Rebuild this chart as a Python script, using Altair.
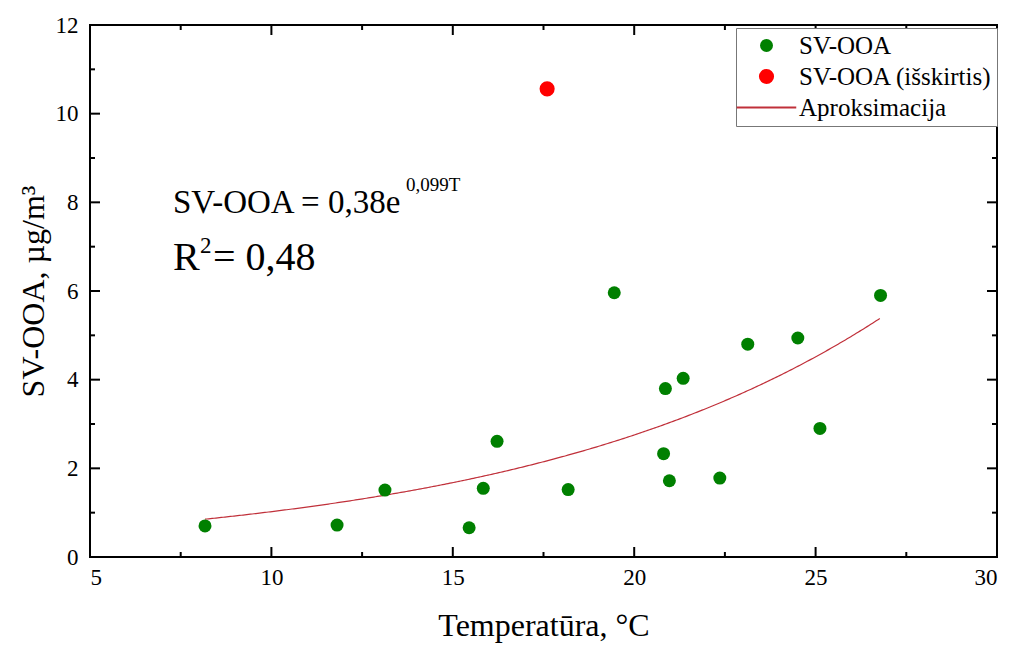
import altair as alt
import pandas as pd

# ---- data ----
temp = [8.17, 11.81, 13.13, 15.45, 15.84, 16.22, 18.18, 19.45, 20.81, 20.86,
        20.97, 21.35, 22.36, 23.13, 24.51, 25.12, 26.79]
sv_ooa = [0.70, 0.72, 1.51, 0.66, 1.55, 2.61, 1.52, 5.96, 2.33, 3.80,
          1.72, 4.03, 1.78, 4.80, 4.94, 2.90, 5.90]
outlier_temp = [17.60]
outlier_sv = [10.56]

# fit printed on the chart: SV-OOA = 0,38 e^(0,099 T)
fit_a = 0.38
fit_b = 0.099
fit_start, fit_stop = 8.17, 26.80

series_names = ["SV-OOA", "SV-OOA (išskirtis)", "Aproksimacija"]
x_major = [5, 10, 15, 20, 25, 30]
x_minor = [7.5, 12.5, 17.5, 22.5, 27.5]
y_major = [0, 2, 4, 6, 8, 10, 12]
y_minor = [1, 3, 5, 7, 9, 11]

# ---- styling ----
W, H = 907, 532
FONT = "Liberation Serif"
colors = ["#008000", "#ff0000", "#c0303a"]
# legend symbols: circles and a thin horizontal bar standing for the fit line
shapes = ["circle", "circle", "M-3.5,-0.11L3.5,-0.11L3.5,0.11L-3.5,0.11Z"]
sizes = [169, 289, 169]

xs = alt.Scale(domain=[5, 30], nice=False, zero=False)
ys = alt.Scale(domain=[0, 12], nice=False, zero=False)

pts = pd.DataFrame({
    "T": temp + outlier_temp,
    "v": sv_ooa + outlier_sv,
    "series": [series_names[0]] * len(temp) + [series_names[1]] * len(outlier_temp),
})

legend = alt.Legend(
    title=None, orient="none", legendX=646, legendY=3,
    labelFont=FONT, labelFontSize=25, labelColor="black", labelOffset=20,
    labelLimit=400, padding=5, rowPadding=5, strokeColor="#777",
    fillColor="white", symbolOpacity=1, symbolSize=225, symbolOffset=13,
    symbolStrokeWidth=0,
)

points = alt.Chart(pts).mark_point(filled=True, opacity=1).encode(
    x=alt.X("T:Q", scale=xs,
            axis=alt.Axis(values=x_major, title="Temperatūra, °C", ticks=False,
                          domain=False, grid=False, labelPadding=9,
                          titlePadding=21, labelFont=FONT, labelFontSize=23,
                          titleFont=FONT, titleFontSize=32)),
    y=alt.Y("v:Q", scale=ys,
            axis=alt.Axis(values=y_major, title="SV-OOA, µg/m³", ticks=False,
                          domain=False, grid=False, labelPadding=12,
                          titlePadding=5, labelFont=FONT, labelFontSize=23,
                          titleFont=FONT, titleFontSize=32)),
    color=alt.Color("series:N", scale=alt.Scale(domain=series_names, range=colors),
                    legend=legend),
    shape=alt.Shape("series:N", scale=alt.Scale(domain=series_names, range=shapes),
                    legend=legend),
    size=alt.Size("series:N", scale=alt.Scale(domain=series_names, range=sizes),
                  legend=None),
)

fit = alt.Chart(alt.sequence(fit_start, fit_stop, 0.05, as_="T")).transform_calculate(
    v=f"{fit_a} * exp({fit_b} * datum.T)"
).mark_line(color=colors[2], strokeWidth=1.2).encode(
    x=alt.X("T:Q", scale=xs), y=alt.Y("v:Q", scale=ys)
)


def xticks(vals, length, top):
    base = alt.Chart(pd.DataFrame({"t": vals})).mark_rule(color="black", strokeWidth=2)
    if top:
        return base.encode(x=alt.X("t:Q", scale=xs), y=alt.value(0), y2=alt.value(length))
    return base.encode(x=alt.X("t:Q", scale=xs), y=alt.value(H), y2=alt.value(H - length))


def yticks(vals, length, right):
    base = alt.Chart(pd.DataFrame({"t": vals})).mark_rule(color="black", strokeWidth=2)
    if right:
        return base.encode(y=alt.Y("t:Q", scale=ys), x=alt.value(W), x2=alt.value(W - length))
    return base.encode(y=alt.Y("t:Q", scale=ys), x=alt.value(0), x2=alt.value(length))


ticks = [
    xticks(x_major, 10, False), xticks(x_minor, 5, False),
    xticks(x_major, 10, True), xticks(x_minor, 5, True),
    yticks(y_major, 10, False), yticks(y_minor, 5, False),
    yticks(y_major, 10, True), yticks(y_minor, 5, True),
]


def label(txt, x, y, size):
    return alt.Chart(pd.DataFrame({"s": [txt]})).mark_text(
        font=FONT, fontSize=size, align="left", baseline="alphabetic", color="black"
    ).encode(x=alt.value(x), y=alt.value(y), text="s:N")


texts = [
    label("SV-OOA = 0,38e", 83, 188, 33),
    label("0,099T", 316, 166, 19),
    label("R", 83, 245, 40),
    label("2", 110, 228, 23),
    label("= 0,48", 123, 245, 40),
]

chart = alt.layer(fit, points, *ticks, *texts).properties(
    width=W, height=H,
    autosize=alt.AutoSizeParams(type="none"),
    padding={"left": 90, "top": 25, "right": 16, "bottom": 88},
    background="white",
).configure_view(
    stroke="black", strokeWidth=2
).configure_axis(
    labelFont=FONT, labelFontSize=23, labelColor="black",
    titleFont=FONT, titleFontSize=32, titleColor="black", titleFontWeight="normal",
)

chart.save("out.html", embed_options={"renderer": "svg", "actions": False})
